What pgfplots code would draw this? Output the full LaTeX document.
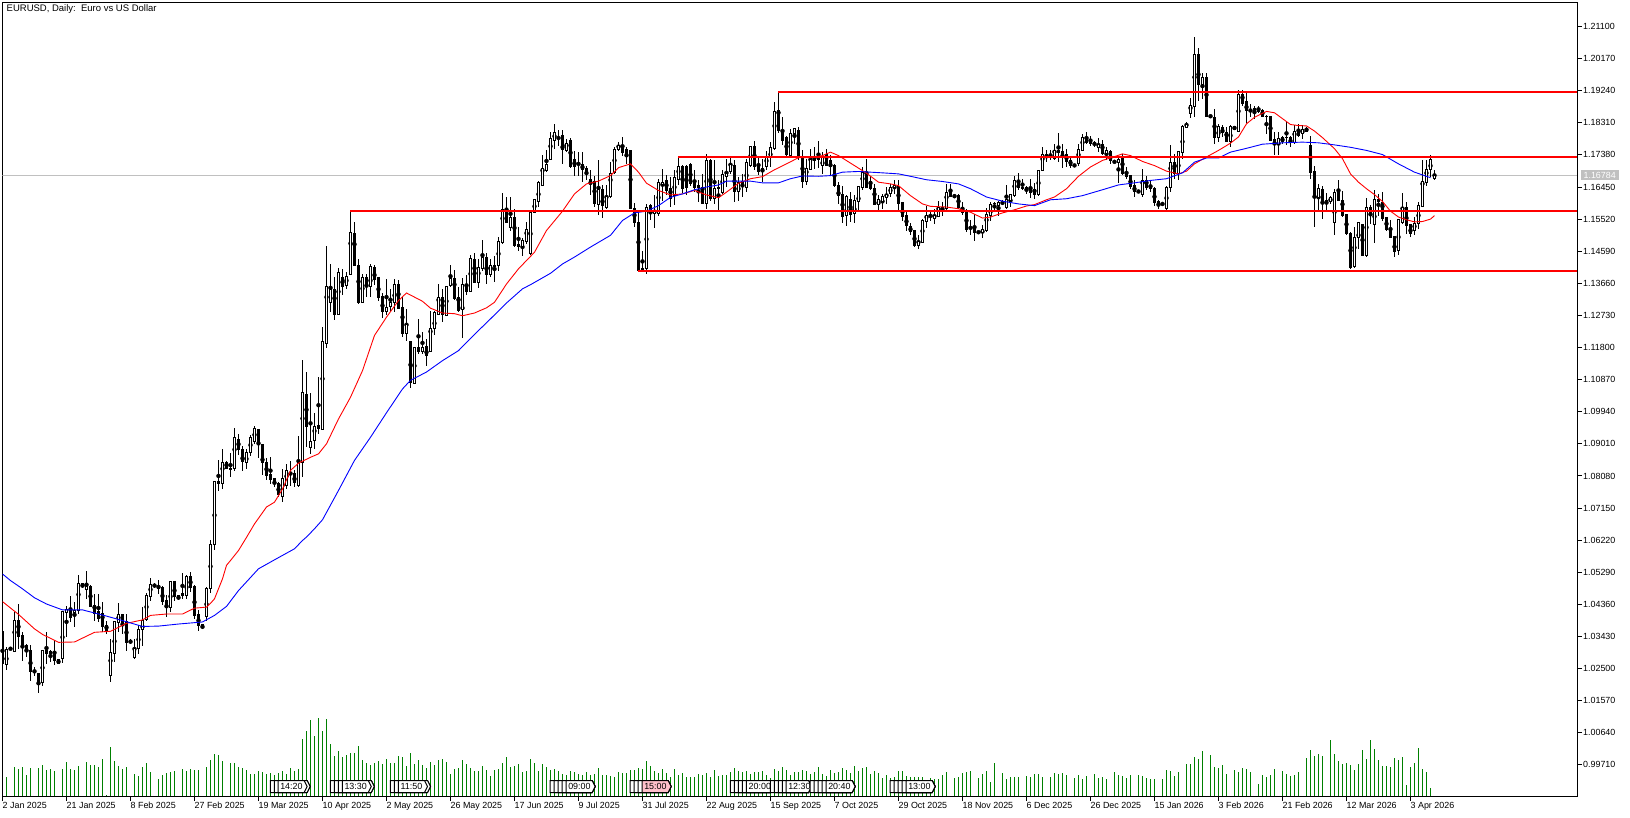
\documentclass[border=0pt]{standalone}
\usepackage{fontspec}
\setmainfont{Liberation Sans}
\usepackage{pgfplots}
\usepackage{pgfplotstable}
\pgfplotsset{compat=1.18}
\newcommand\tickf{\fontsize{8.9}{10}\selectfont}
\definecolor{silverc}{RGB}{192,192,192}
\definecolor{volg}{RGB}{0,128,0}
\definecolor{pinkc}{RGB}{255,192,203}
\pgfplotstableread{
o h l c
1.0356 1.0358 1.0245 1.0265
1.0261 1.0312 1.0245 1.0304
1.0309 1.0312 1.0303 1.0305
1.0300 1.0413 1.0297 1.0389
1.0389 1.0436 1.0307 1.0343
1.0346 1.0355 1.0273 1.0315
1.0317 1.0322 1.0283 1.0300
1.0302 1.0317 1.0215 1.0242
1.0244 1.0254 1.0230 1.0239
1.0237 1.0237 1.0178 1.0210
1.0210 1.0305 1.0200 1.0303
1.0303 1.0355 1.0264 1.0295
1.0299 1.0305 1.0268 1.0295
1.0299 1.0333 1.0259 1.0273
1.0275 1.0275 1.0265 1.0265
1.0278 1.0417 1.0265 1.0415
1.0413 1.0430 1.0341 1.0420
1.0418 1.0459 1.0384 1.0397
1.0411 1.0442 1.0370 1.0418
1.0418 1.0522 1.0407 1.0495
1.0495 1.0497 1.0484 1.0488
1.0478 1.0534 1.0452 1.0488
1.0488 1.0491 1.0428 1.0430
1.0433 1.0467 1.0387 1.0409
1.0414 1.0467 1.0384 1.0394
1.0409 1.0442 1.0355 1.0372
1.0375 1.0387 1.0351 1.0360
1.0230 1.0336 1.0210 1.0296
1.0295 1.0389 1.0269 1.0387
1.0384 1.0440 1.0355 1.0407
1.0407 1.0407 1.0349 1.0381
1.0387 1.0407 1.0302 1.0326
1.0328 1.0336 1.0320 1.0328
1.0283 1.0336 1.0278 1.0307
1.0307 1.0375 1.0293 1.0362
1.0362 1.0428 1.0314 1.0389
1.0391 1.0468 1.0389 1.0462
1.0460 1.0513 1.0445 1.0494
1.0494 1.0497 1.0484 1.0488
1.0485 1.0508 1.0465 1.0483
1.0484 1.0488 1.0433 1.0445
1.0447 1.0462 1.0399 1.0426
1.0426 1.0505 1.0413 1.0503
1.0502 1.0505 1.0447 1.0459
1.0462 1.0462 1.0449 1.0457
1.0467 1.0527 1.0452 1.0462
1.0462 1.0520 1.0452 1.0517
1.0517 1.0529 1.0471 1.0486
1.0488 1.0491 1.0394 1.0404
1.0407 1.0420 1.0358 1.0375
1.0377 1.0377 1.0365 1.0373
1.0402 1.0486 1.0387 1.0481
1.0481 1.0623 1.0469 1.0608
1.0608 1.0794 1.0595 1.0792
1.0792 1.0853 1.0763 1.0785
1.0785 1.0887 1.0771 1.0846
1.0846 1.0851 1.0828 1.0830
1.0831 1.0875 1.0804 1.0828
1.0831 1.0947 1.0822 1.0918
1.0915 1.0930 1.0870 1.0886
1.0886 1.0896 1.0822 1.0851
1.0848 1.0887 1.0828 1.0875
1.0877 1.0928 1.0867 1.0920
1.0909 1.0954 1.0901 1.0944
1.0943 1.0945 1.0860 1.0901
1.0898 1.0898 1.0812 1.0848
1.0846 1.0860 1.0795 1.0809
1.0812 1.0862 1.0785 1.0798
1.0800 1.0802 1.0775 1.0787
1.0787 1.0790 1.0747 1.0753
1.0749 1.0829 1.0732 1.0800
1.0780 1.0843 1.0771 1.0824
1.0819 1.0850 1.0780 1.0814
1.0814 1.0824 1.0775 1.0790
1.0780 1.0925 1.0777 1.0846
1.0846 1.1145 1.0804 1.1049
1.1044 1.1109 1.0891 1.0951
1.0891 1.1049 1.0872 1.0908
1.0911 1.0991 1.0886 1.0952
1.0954 1.1096 1.0930 1.0944
1.0943 1.1239 1.0940 1.1197
1.1193 1.1473 1.1179 1.1357
1.1311 1.1423 1.1283 1.1348
1.1348 1.1384 1.1261 1.1276
1.1276 1.1411 1.1273 1.1396
1.1382 1.1408 1.1331 1.1357
1.1360 1.1398 1.1350 1.1387
1.1391 1.1574 1.1389 1.1512
1.1509 1.1543 1.1415 1.1418
1.1418 1.1437 1.1305 1.1310
1.1311 1.1393 1.1309 1.1384
1.1384 1.1393 1.1326 1.1357
1.1357 1.1422 1.1326 1.1415
1.1411 1.1418 1.1362 1.1377
1.1382 1.1384 1.1314 1.1326
1.1328 1.1337 1.1266 1.1285
1.1285 1.1379 1.1273 1.1295
1.1299 1.1350 1.1287 1.1311
1.1309 1.1379 1.1283 1.1364
1.1364 1.1377 1.1292 1.1294
1.1295 1.1326 1.1210 1.1222
1.1220 1.1292 1.1200 1.1246
1.1197 1.1197 1.1063 1.1080
1.1075 1.1181 1.1073 1.1181
1.1181 1.1263 1.1162 1.1168
1.1168 1.1225 1.1162 1.1181
1.1183 1.1205 1.1128 1.1157
1.1169 1.1287 1.1166 1.1234
1.1234 1.1285 1.1215 1.1282
1.1276 1.1363 1.1273 1.1324
1.1324 1.1350 1.1253 1.1276
1.1273 1.1358 1.1270 1.1358
1.1360 1.1418 1.1355 1.1379
1.1379 1.1406 1.1319 1.1323
1.1326 1.1355 1.1282 1.1287
1.1289 1.1382 1.1207 1.1364
1.1364 1.1389 1.1331 1.1343
1.1343 1.1447 1.1340 1.1437
1.1434 1.1453 1.1366 1.1369
1.1369 1.1437 1.1353 1.1411
1.1408 1.1492 1.1403 1.1442
1.1442 1.1453 1.1365 1.1391
1.1391 1.1437 1.1384 1.1419
1.1419 1.1444 1.1371 1.1416
1.1419 1.1500 1.1403 1.1487
1.1483 1.1628 1.1480 1.1579
1.1579 1.1616 1.1543 1.1543
1.1529 1.1616 1.1519 1.1556
1.1556 1.1582 1.1471 1.1476
1.1479 1.1529 1.1461 1.1474
1.1474 1.1498 1.1445 1.1490
1.1487 1.1543 1.1480 1.1521
1.1453 1.1572 1.1447 1.1570
1.1572 1.1608 1.1570 1.1608
1.1604 1.1661 1.1587 1.1659
1.1650 1.1739 1.1647 1.1698
1.1693 1.1753 1.1688 1.1710
1.1725 1.1804 1.1722 1.1785
1.1780 1.1828 1.1756 1.1804
1.1799 1.1809 1.1765 1.1799
1.1794 1.1809 1.1712 1.1754
1.1751 1.1785 1.1746 1.1770
1.1780 1.1788 1.1701 1.1704
1.1725 1.1749 1.1678 1.1703
1.1719 1.1746 1.1678 1.1719
1.1710 1.1746 1.1659 1.1696
1.1698 1.1707 1.1664 1.1683
1.1666 1.1693 1.1621 1.1662
1.1662 1.1678 1.1587 1.1598
1.1595 1.1722 1.1563 1.1637
1.1637 1.1650 1.1556 1.1591
1.1587 1.1650 1.1582 1.1618
1.1618 1.1717 1.1614 1.1685
1.1688 1.1761 1.1683 1.1753
1.1753 1.1775 1.1749 1.1765
1.1765 1.1790 1.1736 1.1746
1.1754 1.1762 1.1712 1.1736
1.1751 1.1751 1.1582 1.1584
1.1584 1.1598 1.1529 1.1543
1.1543 1.1572 1.1398 1.1403
1.1410 1.1461 1.1398 1.1405
1.1408 1.1596 1.1392 1.1585
1.1590 1.1595 1.1548 1.1575
1.1568 1.1621 1.1526 1.1577
1.1568 1.1669 1.1560 1.1659
1.1652 1.1698 1.1606 1.1659
1.1664 1.1679 1.1621 1.1635
1.1640 1.1674 1.1587 1.1611
1.1621 1.1695 1.1594 1.1672
1.1667 1.1730 1.1650 1.1703
1.1705 1.1708 1.1627 1.1642
1.1703 1.1708 1.1621 1.1645
1.1710 1.1714 1.1647 1.1654
1.1659 1.1693 1.1630 1.1645
1.1648 1.1664 1.1601 1.1643
1.1645 1.1683 1.1596 1.1598
1.1598 1.1741 1.1582 1.1722
1.1722 1.1727 1.1606 1.1611
1.1611 1.1722 1.1596 1.1640
1.1640 1.1664 1.1577 1.1643
1.1630 1.1695 1.1625 1.1681
1.1676 1.1727 1.1645 1.1683
1.1691 1.1736 1.1683 1.1710
1.1707 1.1722 1.1601 1.1633
1.1633 1.1674 1.1606 1.1659
1.1661 1.1683 1.1616 1.1647
1.1645 1.1727 1.1630 1.1715
1.1707 1.1765 1.1704 1.1762
1.1762 1.1778 1.1693 1.1704
1.1707 1.1736 1.1681 1.1691
1.1698 1.1727 1.1659 1.1690
1.1704 1.1749 1.1693 1.1733
1.1731 1.1775 1.1704 1.1759
1.1756 1.1891 1.1753 1.1865
1.1867 1.1920 1.1801 1.1809
1.1809 1.1847 1.1768 1.1780
1.1788 1.1792 1.1733 1.1739
1.1737 1.1814 1.1734 1.1799
1.1799 1.1817 1.1770 1.1814
1.1809 1.1819 1.1722 1.1737
1.1731 1.1753 1.1643 1.1662
1.1662 1.1727 1.1650 1.1698
1.1695 1.1756 1.1693 1.1724
1.1730 1.1761 1.1698 1.1722
1.1730 1.1777 1.1701 1.1724
1.1707 1.1746 1.1683 1.1731
1.1739 1.1756 1.1707 1.1707
1.1722 1.1739 1.1678 1.1704
1.1707 1.1712 1.1645 1.1649
1.1649 1.1659 1.1595 1.1620
1.1622 1.1647 1.1540 1.1560
1.1562 1.1621 1.1533 1.1618
1.1609 1.1630 1.1543 1.1565
1.1567 1.1621 1.1540 1.1606
1.1604 1.1646 1.1577 1.1646
1.1645 1.1703 1.1635 1.1688
1.1678 1.1727 1.1643 1.1645
1.1661 1.1678 1.1635 1.1640
1.1640 1.1654 1.1594 1.1594
1.1594 1.1621 1.1577 1.1609
1.1604 1.1625 1.1582 1.1618
1.1616 1.1645 1.1596 1.1623
1.1625 1.1654 1.1616 1.1643
1.1643 1.1664 1.1625 1.1649
1.1646 1.1664 1.1577 1.1598
1.1601 1.1601 1.1546 1.1560
1.1563 1.1572 1.1519 1.1533
1.1531 1.1540 1.1505 1.1517
1.1519 1.1519 1.1471 1.1476
1.1476 1.1505 1.1466 1.1487
1.1485 1.1553 1.1482 1.1548
1.1546 1.1589 1.1527 1.1563
1.1562 1.1575 1.1548 1.1563
1.1553 1.1582 1.1539 1.1563
1.1560 1.1606 1.1558 1.1585
1.1585 1.1601 1.1561 1.1577
1.1582 1.1654 1.1577 1.1630
1.1630 1.1654 1.1615 1.1617
1.1620 1.1625 1.1612 1.1616
1.1620 1.1625 1.1582 1.1585
1.1587 1.1601 1.1563 1.1572
1.1572 1.1582 1.1514 1.1521
1.1529 1.1548 1.1505 1.1525
1.1524 1.1567 1.1490 1.1514
1.1516 1.1519 1.1509 1.1513
1.1512 1.1534 1.1498 1.1521
1.1519 1.1585 1.1514 1.1564
1.1562 1.1601 1.1546 1.1594
1.1596 1.1601 1.1577 1.1597
1.1592 1.1606 1.1562 1.1601
1.1600 1.1606 1.1592 1.1600
1.1587 1.1652 1.1582 1.1608
1.1606 1.1625 1.1587 1.1622
1.1620 1.1678 1.1616 1.1664
1.1664 1.1685 1.1637 1.1643
1.1645 1.1669 1.1635 1.1640
1.1643 1.1649 1.1625 1.1639
1.1640 1.1669 1.1614 1.1630
1.1637 1.1656 1.1611 1.1623
1.1623 1.1693 1.1620 1.1693
1.1693 1.1762 1.1691 1.1738
1.1738 1.1751 1.1717 1.1740
1.1740 1.1751 1.1722 1.1738
1.1727 1.1770 1.1724 1.1751
1.1751 1.1802 1.1717 1.1746
1.1748 1.1770 1.1700 1.1736
1.1738 1.1756 1.1703 1.1720
1.1722 1.1731 1.1700 1.1707
1.1707 1.1712 1.1703 1.1705
1.1712 1.1770 1.1707 1.1753
1.1751 1.1799 1.1749 1.1787
1.1787 1.1804 1.1770 1.1775
1.1778 1.1794 1.1765 1.1770
1.1773 1.1778 1.1762 1.1769
1.1759 1.1787 1.1746 1.1768
1.1768 1.1780 1.1739 1.1741
1.1741 1.1760 1.1722 1.1751
1.1748 1.1751 1.1712 1.1722
1.1719 1.1722 1.1714 1.1715
1.1717 1.1736 1.1656 1.1725
1.1727 1.1741 1.1681 1.1685
1.1688 1.1703 1.1669 1.1675
1.1678 1.1681 1.1640 1.1646
1.1649 1.1664 1.1615 1.1633
1.1635 1.1637 1.1627 1.1630
1.1622 1.1698 1.1617 1.1664
1.1664 1.1678 1.1637 1.1643
1.1645 1.1664 1.1630 1.1641
1.1642 1.1645 1.1589 1.1601
1.1603 1.1606 1.1582 1.1594
1.1598 1.1600 1.1592 1.1594
1.1582 1.1647 1.1579 1.1645
1.1643 1.1768 1.1630 1.1717
1.1717 1.1741 1.1669 1.1685
1.1685 1.1748 1.1666 1.1748
1.1746 1.1826 1.1727 1.1820
1.1818 1.1833 1.1816 1.1825
1.1859 1.1903 1.1845 1.1881
1.1878 1.2079 1.1847 1.2029
1.2029 1.2048 1.1894 1.1942
1.1942 1.1975 1.1900 1.1961
1.1961 1.1975 1.1849 1.1849
1.1852 1.1854 1.1846 1.1847
1.1847 1.1871 1.1770 1.1788
1.1789 1.1828 1.1775 1.1820
1.1818 1.1826 1.1789 1.1803
1.1804 1.1818 1.1775 1.1778
1.1778 1.1826 1.1762 1.1820
1.1820 1.1823 1.1809 1.1811
1.1807 1.1925 1.1804 1.1913
1.1913 1.1927 1.1881 1.1888
1.1893 1.1923 1.1830 1.1867
1.1868 1.1886 1.1847 1.1866
1.1871 1.1881 1.1843 1.1868
1.1872 1.1881 1.1859 1.1863
1.1867 1.1871 1.1847 1.1849
1.1850 1.1855 1.1799 1.1849
1.1849 1.1852 1.1778 1.1780
1.1782 1.1804 1.1738 1.1767
1.1768 1.1804 1.1738 1.1785
1.1787 1.1794 1.1770 1.1776
1.1789 1.1833 1.1768 1.1787
1.1789 1.1794 1.1762 1.1773
1.1773 1.1826 1.1770 1.1806
1.1806 1.1828 1.1789 1.1794
1.1799 1.1826 1.1785 1.1813
1.1815 1.1818 1.1804 1.1807
1.1765 1.1794 1.1669 1.1688
1.1690 1.1705 1.1529 1.1616
1.1616 1.1654 1.1577 1.1640
1.1638 1.1647 1.1553 1.1601
1.1606 1.1628 1.1572 1.1601
1.1603 1.1620 1.1596 1.1616
1.1543 1.1640 1.1505 1.1628
1.1632 1.1666 1.1604 1.1606
1.1606 1.1633 1.1557 1.1562
1.1565 1.1567 1.1507 1.1509
1.1509 1.1514 1.1408 1.1413
1.1415 1.1529 1.1410 1.1500
1.1500 1.1545 1.1466 1.1541
1.1536 1.1538 1.1445 1.1447
1.1447 1.1614 1.1442 1.1585
1.1585 1.1594 1.1538 1.1567
1.1535 1.1637 1.1482 1.1609
1.1609 1.1625 1.1562 1.1603
1.1601 1.1630 1.1548 1.1553
1.1556 1.1558 1.1519 1.1522
1.1524 1.1548 1.1498 1.1500
1.1502 1.1502 1.1442 1.1459
1.1461 1.1553 1.1447 1.1550
1.1543 1.1627 1.1538 1.1585
1.1585 1.1601 1.1509 1.1533
1.1536 1.1538 1.1500 1.1509
1.1519 1.1557 1.1505 1.1540
1.1538 1.1601 1.1524 1.1590
1.1589 1.1722 1.1587 1.1661
1.1659 1.1722 1.1649 1.1695
1.1695 1.1739 1.1674 1.1724
1.1669 1.1693 1.1664 1.1678
}\candles
\pgfplotstableread{
v
20
20
0
30
28
30
22
29
0
29
32
27
28
26
0
28
35
28
27
31
0
35
32
32
30
38
2
50
36
31
28
30
0
23
21
30
34
25
0
18
22
24
25
26
0
28
26
28
27
27
0
30
37
43
42
36
0
34
34
30
29
27
23
23
26
25
23
24
22
24
26
23
29
26
28
58
66
77
61
79
66
78
53
41
46
40
42
44
44
51
37
34
32
34
36
33
38
34
34
41
40
31
44
33
37
32
29
35
32
37
38
35
23
28
29
37
33
29
26
26
31
27
21
27
28
34
40
30
31
33
25
26
38
34
26
33
30
27
28
26
23
22
26
25
23
22
25
22
23
29
22
22
21
20
25
24
24
27
27
29
28
36
31
26
24
28
24
20
28
22
24
20
20
20
23
22
24
20
27
21
22
22
25
29
26
25
26
23
25
25
26
22
19
28
26
30
27
22
25
25
27
26
23
25
30
23
21
27
24
25
29
27
24
31
26
29
30
23
26
24
19
22
19
20
26
26
21
20
20
20
20
16
19
18
18
22
25
0
19
20
24
25
26
0
19
23
26
15
34
0
24
18
20
20
20
0
21
20
23
23
20
0
20
24
23
24
22
0
19
22
18
21
0
23
19
20
18
0
25
22
21
19
22
0
22
21
19
18
18
0
18
27
26
21
25
0
33
33
40
38
46
0
42
30
29
32
23
0
27
25
29
28
25
0
13
22
20
22
28
0
26
23
21
22
25
0
39
47
41
43
41
1
57
43
36
33
34
32
27
33
47
38
57
48
37
31
31
30
39
37
40
12
30
34
49
28
25
9
}\volumes
\pgfplotstableread{
i m
0 1.0444
4 1.0407
8 1.0365
10 1.0349
14 1.0326
18 1.0327
23 1.0355
27 1.0358
31 1.0381
35 1.0391
37 1.0404
41 1.0408
45 1.0408
48 1.0425
51 1.0428
52 1.0439
53 1.0452
54 1.0481
55 1.0510
56 1.0549
57 1.0563
59 1.0592
61 1.0630
63 1.0669
66 1.0718
68 1.0732
70 1.0770
72 1.0824
74 1.0845
77 1.0862
79 1.0872
81 1.0901
84 1.0973
87 1.1036
90 1.1113
93 1.1215
96 1.1268
99 1.1316
101 1.1338
103 1.1326
105 1.1314
107 1.1294
110 1.1280
113 1.1278
115 1.1272
118 1.1280
121 1.1295
123 1.1311
126 1.1364
129 1.1408
133 1.1456
136 1.1519
140 1.1575
143 1.1625
146 1.1654
149 1.1662
152 1.1678
154 1.1701
157 1.1712
159 1.1688
161 1.1656
164 1.1635
167 1.1622
170 1.1625
173 1.1635
176 1.1622
179 1.1614
181 1.1630
184 1.1656
187 1.1669
190 1.1675
193 1.1695
196 1.1712
199 1.1730
202 1.1730
205 1.1736
207 1.1746
209 1.1736
213 1.1707
216 1.1685
219 1.1659
222 1.1654
224 1.1649
227 1.1620
230 1.1596
232 1.1589
236 1.1587
239 1.1582
242 1.1572
245 1.1555
247 1.1558
250 1.1570
253 1.1579
256 1.1590
258 1.1594
261 1.1608
263 1.1616
266 1.1640
269 1.1676
272 1.1703
275 1.1722
278 1.1733
280 1.1741
282 1.1736
285 1.1719
288 1.1707
291 1.1691
294 1.1683
296 1.1691
298 1.1712
301 1.1732
304 1.1751
307 1.1772
309 1.1790
311 1.1828
313 1.1847
316 1.1864
318 1.1860
320 1.1843
322 1.1826
324 1.1823
326 1.1822
328 1.1807
330 1.1788
333 1.1756
335 1.1727
337 1.1683
339 1.1659
341 1.1640
343 1.1623
345 1.1603
347 1.1575
349 1.1558
351 1.1550
353 1.1544
355 1.1545
357 1.1552
358 1.1562
}\mared
\pgfplotstableread{
i m
0 1.0524
2 1.0505
5 1.0481
8 1.0455
11 1.0437
15 1.0420
20 1.0420
23 1.0411
26 1.0402
30 1.0389
35 1.0372
39 1.0373
44 1.0379
50 1.0385
53 1.0404
56 1.0430
59 1.0476
64 1.0539
68 1.0565
73 1.0597
75 1.0621
76 1.0631
78 1.0655
80 1.0681
84 1.0766
88 1.0853
92 1.0920
96 1.0991
100 1.1060
102 1.1085
106 1.1109
110 1.1142
114 1.1171
118 1.1218
122 1.1263
126 1.1309
130 1.1350
132 1.1362
137 1.1395
140 1.1422
143 1.1442
147 1.1471
152 1.1505
155 1.1548
158 1.1570
161 1.1575
164 1.1591
167 1.1615
170 1.1625
173 1.1637
176 1.1645
179 1.1651
181 1.1662
184 1.1662
187 1.1662
190 1.1657
194 1.1657
197 1.1669
200 1.1677
204 1.1676
207 1.1678
210 1.1688
214 1.1690
220 1.1686
224 1.1683
227 1.1676
231 1.1666
235 1.1661
239 1.1654
242 1.1640
246 1.1616
250 1.1604
254 1.1596
258 1.1591
262 1.1608
266 1.1611
270 1.1620
275 1.1637
279 1.1651
283 1.1657
287 1.1664
291 1.1669
295 1.1686
298 1.1717
301 1.1729
304 1.1729
307 1.1746
311 1.1757
315 1.1769
320 1.1773
325 1.1775
329 1.1773
333 1.1767
337 1.1760
341 1.1751
345 1.1739
349 1.1712
353 1.1688
357 1.1672
}\mablue
\newcommand\etag[4]{%
  \draw[black,fill=#3,line width=1pt] (axis cs:#1,16)--(axis cs:#2,16)--([xshift=3pt]axis cs:#2,10)--(axis cs:#2,4)--(axis cs:#1,4)--cycle;
  \node[font=\tickf,anchor=west,inner sep=0pt,text=black] at ([xshift=2pt]axis cs:#1,10) {#4};}
\pgfplotsset{common/.style={scale only axis, width=1575pt, height=794pt, at={(0pt,0pt)}, anchor=south west, xmin=0, xmax=393.75, clip mode=individual},
  price/.style={common, ymin=0.98794, ymax=1.21795}}
\begin{document}
\begin{tikzpicture}
\path[use as bounding box] (-2.5pt,-20.5pt) rectangle (1627.5pt,796.5pt);
% volume panel
\begin{axis}[common, ymin=0, ymax=794, hide axis]
\addplot[ycomb, volg, line width=1pt, mark=none] table[x expr=\coordindex, y=v] {\volumes};
\etag{66.95}{76.15}{white}{}
\etag{67.95}{76.15}{white}{}
\etag{68.9}{75.4}{white}{14:20}
\etag{82}{92.2}{white}{}
\etag{83}{92.2}{white}{}
\etag{84}{92.2}{white}{}
\etag{84.95}{91.45}{white}{13:30}
\etag{97}{106.25}{white}{}
\etag{98}{106.25}{white}{}
\etag{99}{105.5}{white}{11:50}
\etag{136.9}{147.4}{white}{}
\etag{137.9}{147.4}{white}{}
\etag{138.9}{147.4}{white}{}
\etag{139.9}{147.4}{white}{}
\etag{140.9}{147.4}{white}{09:00}
\etag{156.9}{166.4}{white}{}
\etag{157.9}{166.4}{white}{}
\etag{158.9}{166.4}{white}{}
\etag{159.9}{166.4}{pinkc}{15:00}
\etag{182}{192}{white}{}
\etag{183}{192}{white}{}
\etag{184}{192}{white}{}
\etag{185}{192}{white}{}
\etag{186}{192}{white}{20:00}
\etag{192}{201.5}{white}{}
\etag{193}{201.5}{white}{}
\etag{194}{201.5}{white}{}
\etag{195}{201.5}{white}{}
\etag{195.9}{201.5}{white}{12:30}
\etag{201.9}{212.4}{white}{}
\etag{202.9}{212.4}{white}{}
\etag{203.9}{212.4}{white}{}
\etag{204.9}{212.4}{white}{}
\etag{205.9}{212.4}{white}{20:40}
\etag{221.9}{232.4}{white}{}
\etag{222.9}{232.4}{white}{}
\etag{223.9}{232.4}{white}{}
\etag{224.9}{232.4}{white}{}
\etag{225.9}{232.4}{white}{13:00}
\end{axis}
% price panel: frame, ticks, last-price line, wicks
\begin{axis}[price,
  axis line style={black,line width=1pt},
  tick align=outside, major tick length=4.5pt,
  every tick/.style={black,line width=1pt},
  xtick pos=bottom, ytick pos=right, yticklabel pos=right,
  xtick={0,16,32,48,64,80,96,112,128,144,160,176,192,208,224,240,256,272,288,304,320,336,352},
  xticklabels={2 Jan 2025,21 Jan 2025,8 Feb 2025,27 Feb 2025,19 Mar 2025,10 Apr 2025,2 May 2025,26 May 2025,17 Jun 2025,9 Jul 2025,31 Jul 2025,22 Aug 2025,15 Sep 2025,7 Oct 2025,29 Oct 2025,18 Nov 2025,6 Dec 2025,26 Dec 2025,15 Jan 2026,3 Feb 2026,21 Feb 2026,12 Mar 2026,3 Apr 2026},
  xticklabel style={font=\tickf,anchor=north west,xshift=-1pt,yshift=0pt,inner sep=1pt},
  ytick={1.211,1.2017,1.1924,1.1831,1.1738,1.1645,1.1552,1.1459,1.1366,1.1273,1.118,1.1087,1.0994,1.0901,1.0808,1.0715,1.0622,1.0529,1.0436,1.0343,1.025,1.0157,1.0064,0.9971},
  yticklabels={1.21100,1.20170,1.19240,1.18310,1.17380,1.16450,1.15520,1.14590,1.13660,1.12730,1.11800,1.10870,1.09940,1.09010,1.08080,1.07150,1.06220,1.05290,1.04360,1.03430,1.02500,1.01570,1.00640,0.99710},
  yticklabel style={font=\tickf,anchor=west,xshift=0pt,inner sep=1pt},
]
\addplot[silverc,line width=1pt,mark=none,forget plot] coordinates {(0,1.16784) (393.75,1.16784)};
\addplot[only marks,mark=none,forget plot,error bars/.cd,y dir=both,y explicit,error mark=none,
  error bar style={black,line width=1pt,line cap=butt}]
  table[x expr=\coordindex,y expr={(\thisrow{h}+\thisrow{l})/2},y error expr={(\thisrow{h}-\thisrow{l})/2}] {\candles};
\end{axis}
% candle bodies
\begin{axis}[price, hide axis, ybar stacked, bar width=2pt]
\addplot[draw=none,fill=none] table[x expr=\coordindex,y expr={min(\thisrow{o},\thisrow{c})}] {\candles};
\addplot[draw=black,fill=white,line width=1pt] table[x expr=\coordindex,y expr={max(\thisrow{c}-\thisrow{o},0)}] {\candles};
\addplot[draw=black,fill=black,line width=1pt] table[x expr=\coordindex,y expr={max(\thisrow{o}-\thisrow{c},0)}] {\candles};
\end{axis}
% moving averages, levels, labels
\begin{axis}[price, hide axis]
\addplot[red,line width=0.9pt,mark=none] table[x=i,y=m] {\mared};
\addplot[blue,line width=0.9pt,mark=none] table[x=i,y=m] {\mablue};
\addplot[red,line width=2pt,mark=none] coordinates {(194,1.1920) (393.75,1.1920)};
\addplot[red,line width=2pt,mark=none] coordinates {(169,1.1731) (393.75,1.1731)};
\addplot[red,line width=2pt,mark=none] coordinates {(87,1.1575) (393.75,1.1575)};
\addplot[red,line width=2pt,mark=none] coordinates {(159,1.1403) (393.75,1.1403)};
\node[anchor=west,fill=silverc,text=white,font=\tickf,inner xsep=1.5pt,inner ysep=1pt,minimum height=10pt,minimum width=38pt] at ([xshift=3pt]axis cs:393.75,1.16784) {1.16784};
\node[anchor=west,font=\fontsize{9.5}{11}\selectfont,inner sep=0pt] at ([xshift=4pt,yshift=-7pt]axis cs:0,1.21795) {EURUSD, Daily:\ \ Euro vs US Dollar};
\end{axis}
\end{tikzpicture}
\end{document}
